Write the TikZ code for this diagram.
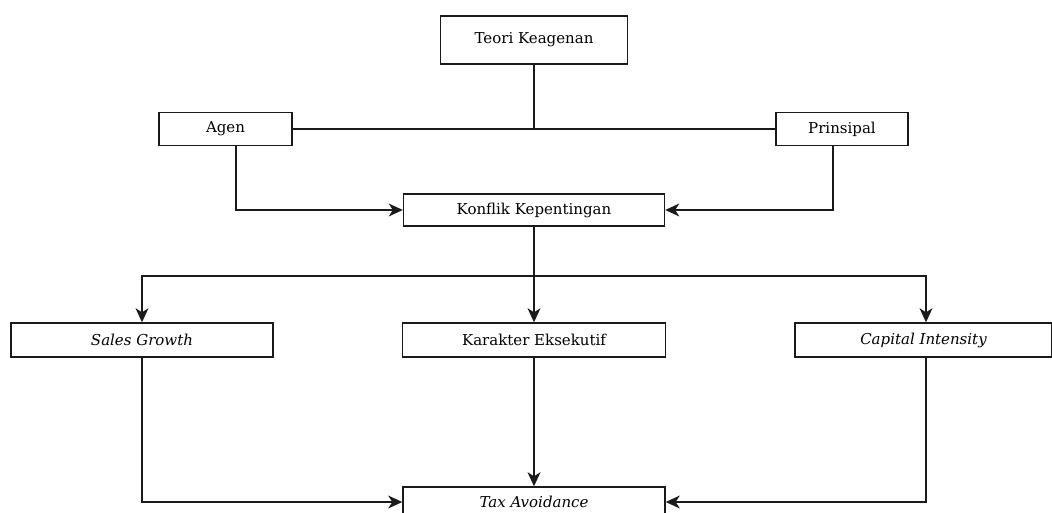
\documentclass[tikz,border=0pt]{standalone}
\usepackage{fontspec}
\setmainfont{DejaVu Serif}
\usepackage{tikz}
\usetikzlibrary{arrows.meta,calc}
\definecolor{cizgi}{HTML}{1A1A1A}

\begin{document}
\begin{tikzpicture}[x=0.03cm,y=-0.03cm,
  kutu/.style={draw=cizgi,line width=1.2pt,inner sep=0pt,minimum height=33*0.03cm,font=\fontsize{12.8}{14}\selectfont},
  ok/.style={-{Stealth[length=12pt,width=11pt,inset=3.5pt]},draw=cizgi,line width=1.2pt},
  bag/.style={draw=cizgi,line width=1.2pt}]
\useasboundingbox (0,0) rectangle (1052,513);
\node[kutu,minimum width=187*0.03cm,minimum height=48*0.03cm] (teori) at (534,40) {Teori Keagenan};
\node[kutu,minimum width=133*0.03cm] (agen) at (225.5,129) {Agen};
\node[kutu,minimum width=132*0.03cm] (prinsipal) at (842,129) {Prinsipal};
\node[kutu,minimum width=261*0.03cm,minimum height=32*0.03cm] (konflik) at (534,210) {Konflik Kepentingan};
\node[kutu,minimum width=262*0.03cm,minimum height=34*0.03cm] (sales) at (142,340) {\itshape Sales Growth};
\node[kutu,minimum width=263*0.03cm,minimum height=34*0.03cm] (karakter) at (534,340) {Karakter Eksekutif};
\node[kutu,minimum width=257*0.03cm,minimum height=34*0.03cm] (capital) at (923.5,340) {\itshape Capital Intensity};
\node[kutu,minimum width=262*0.03cm,minimum height=30*0.03cm] (tax) at (534,502) {\itshape Tax Avoidance};
\coordinate (cabang) at (534,276);
\draw[bag] (agen) -- (prinsipal);
\draw[bag] (teori.south) -- (teori.south |- agen.east);
\draw[ok] ($(agen.south)+(10.5,0)$) |- (konflik.west);
\draw[ok] ($(prinsipal.south)+(-9,0)$) |- (konflik.east);
\draw[bag] (konflik.south) -- (cabang);
\draw[ok] (cabang) -| (sales.north);
\draw[ok] (cabang) -- (karakter.north);
\draw[ok] (cabang) -| ($(capital.north)+(2.5,0)$);
\draw[ok] (sales.south) |- (tax.west);
\draw[ok] (karakter.south) -- (tax.north);
\draw[ok] ($(capital.south)+(2.5,0)$) |- (tax.east);
\end{tikzpicture}
\end{document}
